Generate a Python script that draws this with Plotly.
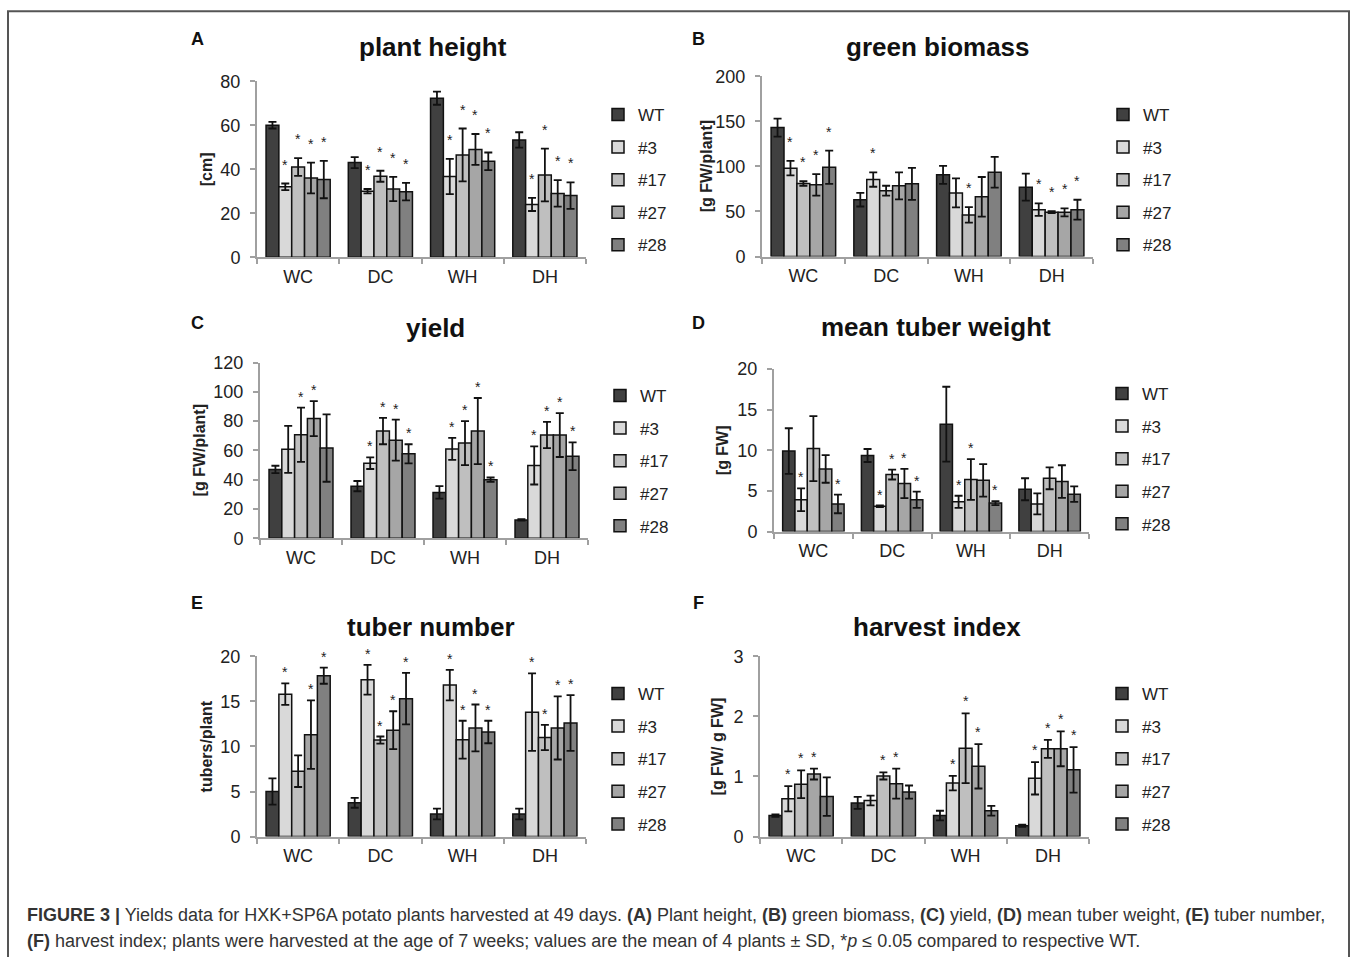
import plotly.graph_objects as go

W, H = 1358, 957
FONT = "Liberation Sans, Arial, Helvetica, sans-serif"

conditions = ["WC", "DC", "WH", "DH"]
lines = ["WT", "#3", "#17", "#27", "#28"]
bar_colors = ["#404040", "#d9d9d9", "#bfbfbf", "#a6a6a6", "#808080"]

# rows = lines (WT, #3, #17, #27, #28); columns = conditions (WC, DC, WH, DH)
height_mean = [[60, 43, 72.3, 53.3], [32, 30, 36.7, 24], [41, 36.8, 46.5, 37.4], [36, 31, 49, 29], [35.3, 29.8, 43.6, 28]]
height_sd = [[1.5, 2.5, 3, 3.5], [1.5, 1, 8, 3], [4, 2.5, 12, 12], [7, 5.5, 7, 6], [8.5, 4, 4, 6]]
height_sig = [[0, 0, 0, 0], [1, 1, 1, 1], [1, 1, 1, 1], [1, 1, 1, 1], [1, 1, 1, 1]]

biomass_mean = [[143, 63, 90.6, 76.9], [98, 85.4, 70.6, 52], [81, 73, 46.2, 49.2], [79.5, 78.4, 66.2, 49], [99, 80.6, 93.5, 52]]
biomass_sd = [[10, 7.5, 10, 15], [8, 8, 16, 7], [2.5, 5.5, 8.5, 1], [12, 15, 22, 4.5], [18.5, 17.7, 17, 11]]
biomass_sig = [[0, 0, 0, 0], [1, 1, 0, 1], [1, 0, 1, 1], [1, 0, 0, 1], [1, 0, 0, 1]]

yield_mean = [[47, 35.6, 31.3, 12.5], [60.7, 51.3, 61, 49.7], [70.7, 73.2, 65, 70.5], [81.7, 67, 73.2, 70.5], [61.6, 57.7, 40, 56]]
yield_sd = [[2.5, 3.5, 4.3, 0.5], [16, 4, 7.5, 13], [18.5, 9, 15, 9], [12, 14, 22.6, 15], [23, 6.5, 1.5, 9.5]]
yield_sig = [[0, 0, 0, 0], [0, 1, 1, 1], [1, 1, 1, 1], [1, 1, 1, 1], [0, 1, 1, 1]]

tuberweight_mean = [[9.9, 9.35, 13.2, 5.2], [3.9, 3.1, 3.65, 3.4], [10.2, 7.0, 6.4, 6.55], [7.7, 5.9, 6.3, 6.15], [3.4, 3.9, 3.5, 4.6]]
tuberweight_sd = [[2.8, 0.8, 4.6, 1.35], [1.4, 0.1, 0.75, 1.3], [4, 0.6, 2.5, 1.35], [1.7, 1.8, 2, 2], [1.15, 1, 0.25, 0.95]]
tuberweight_sig = [[0, 0, 0, 0], [1, 1, 1, 0], [0, 1, 1, 0], [0, 1, 0, 0], [1, 1, 1, 0]]

tubernumber_mean = [[5.0, 3.75, 2.5, 2.5], [15.8, 17.4, 16.8, 13.8], [7.25, 10.7, 10.75, 11], [11.3, 11.8, 12.05, 12.05], [17.85, 15.3, 11.6, 12.6]]
tubernumber_sd = [[1.45, 0.55, 0.6, 0.6], [1.2, 1.65, 1.7, 4.3], [1.75, 0.4, 2.1, 1.4], [3.8, 2.1, 2.6, 3.5], [0.9, 2.85, 1.25, 3.1]]
tubernumber_sig = [[0, 0, 0, 0], [1, 1, 1, 1], [0, 1, 1, 1], [1, 1, 1, 1], [1, 1, 1, 1]]

harvest_mean = [[0.35, 0.56, 0.35, 0.18], [0.63, 0.6, 0.89, 0.97], [0.87, 1.01, 1.47, 1.46], [1.04, 0.88, 1.17, 1.46], [0.665, 0.74, 0.43, 1.11]]
harvest_sd = [[0.02, 0.1, 0.08, 0.02], [0.21, 0.08, 0.12, 0.27], [0.23, 0.06, 0.58, 0.15], [0.09, 0.25, 0.37, 0.29], [0.32, 0.11, 0.08, 0.38]]
harvest_sig = [[0, 0, 0, 0], [1, 0, 1, 1], [1, 1, 1, 1], [1, 1, 1, 1], [0, 0, 0, 1]]


def fy(y):
    """Target picture row -> figure pixel row (the capture squeezes the page a little vertically)."""
    return (y - 9.5) / 0.979


def py(y):
    """Target picture row -> paper fraction."""
    return 1 - fy(y) / H


panels = [
    dict(letter="A", title="plant height", ylabel="[cm]", mean=height_mean, sd=height_sd, sig=height_sig,
         yrange=[0, 80], dtick=20, px=(257, 586, 80.7, 256.7), ytx=206, leg=(598, 114), star=19),
    dict(letter="B", title="green biomass", ylabel="[g FW/plant]", mean=biomass_mean, sd=biomass_sd, sig=biomass_sig,
         yrange=[0, 200], dtick=50, px=(762, 1093, 75.7, 256), ytx=706, leg=(1103, 114), star=19),
    dict(letter="C", title="yield", ylabel="[g FW/plant]", mean=yield_mean, sd=yield_sd, sig=yield_sig,
         yrange=[0, 120], dtick=20, px=(260, 588, 362, 537.7), ytx=199, leg=(600, 395), star=11),
    dict(letter="D", title="mean tuber weight", ylabel="[g FW]", mean=tuberweight_mean, sd=tuberweight_sd, sig=tuberweight_sig,
         yrange=[0, 20], dtick=5, px=(774, 1089, 368.3, 531), ytx=722, leg=(1102, 393), star=11),
    dict(letter="E", title="tuber number", ylabel="tubers/plant", mean=tubernumber_mean, sd=tubernumber_sd, sig=tubernumber_sig,
         yrange=[0, 20], dtick=5, px=(257, 586, 655.7, 836), ytx=206, leg=(598, 693), star=11),
    dict(letter="F", title="harvest index", ylabel="[g FW/ g FW]", mean=harvest_mean, sd=harvest_sd, sig=harvest_sig,
         yrange=[0, 3], dtick=1, px=(760, 1089, 655.7, 836), ytx=717, leg=(1102, 693), star=12),
]
title_pos = [(433, 46), (938, 46), (435, 327), (936, 326), (431, 626), (937, 626)]
letter_pos = [(197, 38), (699, 38), (197, 322), (699, 322), (197, 602), (699, 602)]

BARGAP = 0.22
bw = (1 - BARGAP) / len(lines)

fig = go.Figure()
annotations = []
layout = {}
AXC = "#a0a0a0"
TXT = "#222222"

for p_i, p in enumerate(panels):
    n = p_i + 1
    sfx = "" if n == 1 else str(n)
    legname = "legend" + sfx
    x0, x1, yt, yb = p["px"]
    for l_i, name in enumerate(lines):
        fig.add_trace(go.Bar(
            x=conditions, y=p["mean"][l_i], name=name,
            marker=dict(color=bar_colors[l_i], line=dict(color="#111111", width=1.5)),
            error_y=dict(type="data", array=p["sd"][l_i], visible=True, color="#111111", thickness=1.8, width=4),
            xaxis="x" + sfx, yaxis="y" + sfx, legend=legname, legendgroup=f"{p['letter']}{l_i}",
            showlegend=True, hoverinfo="skip",
        ))
        for c_i in range(len(conditions)):
            if p["sig"][l_i][c_i]:
                annotations.append(dict(
                    x=c_i - (1 - BARGAP) / 2 + bw * (l_i + 0.5), y=p["mean"][l_i][c_i] + p["sd"][l_i][c_i],
                    xref="x" + sfx, yref="y" + sfx, text="*", showarrow=False,
                    yanchor="middle", yshift=p["star"], font=dict(size=14, color=TXT, family=FONT)))
    layout["xaxis" + sfx] = dict(
        domain=[x0 / W, x1 / W], anchor="y" + sfx, type="category", categoryorder="array",
        categoryarray=conditions, tickson="boundaries", ticks="outside", ticklen=5, tickcolor=AXC,
        tickwidth=1.5, showline=True, linecolor=AXC, linewidth=2, showgrid=False, zeroline=False,
        ticklabelstandoff=2, tickfont=dict(size=18, color=TXT, family=FONT), fixedrange=True)
    layout["yaxis" + sfx] = dict(
        domain=[py(yb), py(yt)], anchor="x" + sfx, range=p["yrange"], dtick=p["dtick"],
        ticks="outside", ticklen=5, tickcolor=AXC, tickwidth=1.5, showline=True, linecolor=AXC,
        linewidth=2, showgrid=False, zeroline=False, ticklabelstandoff=6,
        tickfont=dict(size=18, color=TXT, family=FONT), fixedrange=True)
    lx, ly = p["leg"]
    layout[legname] = dict(
        x=lx / W, y=1 - (fy(ly) - 18) / H, xanchor="left", yanchor="top", orientation="v",
        tracegroupgap=7.5, itemwidth=30, bgcolor="rgba(0,0,0,0)",
        font=dict(size=17, color=TXT, family=FONT), itemclick=False, itemdoubleclick=False)
    tx, ty = title_pos[p_i]
    annotations.append(dict(x=tx / W, y=py(ty), xref="paper", yref="paper", text=f"<b>{p['title']}</b>",
                            showarrow=False, xanchor="center", yanchor="middle",
                            font=dict(size=26, color="#111111", family=FONT)))
    lx2, ly2 = letter_pos[p_i]
    annotations.append(dict(x=lx2 / W, y=py(ly2), xref="paper", yref="paper", text=f"<b>{p['letter']}</b>",
                            showarrow=False, xanchor="center", yanchor="middle",
                            font=dict(size=18, color="#111111", family=FONT)))
    annotations.append(dict(x=p["ytx"] / W, y=py((yt + yb) / 2), xref="paper", yref="paper",
                            text=f"<b>{p['ylabel']}</b>", textangle=-90, showarrow=False,
                            xanchor="center", yanchor="middle", font=dict(size=16, color=TXT, family=FONT)))

caption1 = ("<b>FIGURE 3 |</b> Yields data for HXK+SP6A potato plants harvested at 49 days. <b>(A)</b> Plant height, "
            "<b>(B)</b> green biomass, <b>(C)</b> yield, <b>(D)</b> mean tuber weight, <b>(E)</b> tuber number,")
caption2 = ("<b>(F)</b> harvest index; plants were harvested at the age of 7 weeks; values are the mean of 4 plants "
            "± SD, *<i>p</i> ≤ 0.05 compared to respective WT.")
for txt, cy in [(caption1, 914), (caption2, 940)]:
    annotations.append(dict(x=25 / W, y=py(cy), xref="paper", yref="paper", text=txt, showarrow=False,
                            xanchor="left", yanchor="middle", align="left",
                            font=dict(size=18, color="#333333", family=FONT)))

fig.update_layout(
    width=W, height=H, margin=dict(l=0, r=0, t=0, b=0), paper_bgcolor="white", plot_bgcolor="white",
    barmode="group", bargap=BARGAP, bargroupgap=0, annotations=annotations,
    font=dict(family=FONT, color=TXT),
    shapes=[dict(type="rect", xref="paper", yref="paper", x0=8 / W, x1=1349 / W, y0=-0.05, y1=1 - 1.2 / H,
                 line=dict(color="#555555", width=2), fillcolor="rgba(0,0,0,0)", layer="below")],
    **layout,
)

page_fix = (
    "var d=document.getElementById('{plot_id}');"
    "d.style.position='fixed';d.style.left='0px';d.style.top='0px';"
    "document.documentElement.style.margin='0';document.documentElement.style.padding='0';"
    "document.body.style.margin='0';document.body.style.padding='0';"
    "document.body.style.overflow='hidden';"
)
fig.write_html("out.html", config={"displayModeBar": False}, post_script=page_fix)
